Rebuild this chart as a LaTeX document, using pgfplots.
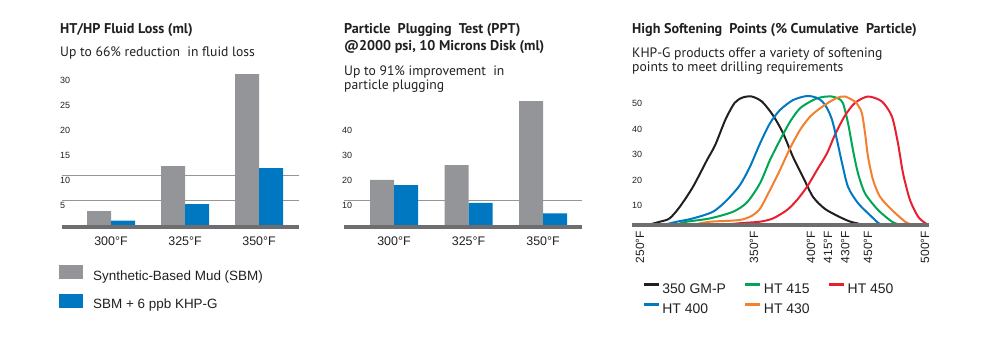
\documentclass[border=0pt]{standalone}
\usepackage{pgfplots}
\pgfplotsset{compat=1.18}
\usepackage{fontspec}
\setmainfont{Liberation Sans}
\newfontfamily\tfont{PT Sans}
\definecolor{bargray}{RGB}{147,149,152}
\definecolor{barblue}{RGB}{0,120,193}
\definecolor{axisgray}{RGB}{110,110,112}
\definecolor{gridgray}{RGB}{150,150,150}
\definecolor{txt}{RGB}{35,31,32}
\definecolor{cblack}{RGB}{35,31,32}
\definecolor{cblue}{RGB}{0,121,193}
\definecolor{cgreen}{RGB}{0,166,81}
\definecolor{corange}{RGB}{242,128,48}
\definecolor{cred}{RGB}{230,32,46}
\pgfplotsset{
  mybar/.style={
    scale only axis, clip=false, enlargelimits=false,
    axis line style={draw=none}, major tick length=0pt, tick style={draw=none},
    ybar=0pt, bar width=24bp, ymin=0,
    xtick={0,1,2}, xticklabels={300°F,325°F,350°F},
    xticklabel style={font=\fontsize{12.5}{13}\selectfont, text=txt, anchor=center, yshift=-16bp},
    yticklabel style={font=\fontsize{9}{10}\selectfont, text=txt, anchor=west, inner sep=0pt, xshift=-2bp, yshift=-5bp},
    /pgf/number format/assume math mode=true,
  }
}
\begin{document}
\begin{tikzpicture}[x=1bp,y=1bp]
\useasboundingbox (0,0) rectangle (992,353);
% titles
\node[anchor=base west, inner sep=0pt, text=txt, font=\tfont\bfseries\fontsize{14.2}{16}\selectfont] at (60,320) {HT/HP Fluid Loss (ml)};
\node[anchor=base west, inner sep=0pt, text=txt, font=\tfont\fontsize{13.7}{15}\selectfont] at (60,297) {Up to 66\% reduction\ \ in fluid loss};
\node[anchor=base west, inner sep=0pt, text=txt, font=\tfont\bfseries\fontsize{14.2}{16}\selectfont] at (344,320) {Particle\ \ Plugging\ \ Test (PPT)};
\node[anchor=base west, inner sep=0pt, text=txt, font=\tfont\bfseries\fontsize{14.2}{16}\selectfont] at (344,303) {@2000 psi, 10 Microns Disk (ml)};
\node[anchor=base west, inner sep=0pt, text=txt, font=\tfont\fontsize{13.7}{15}\selectfont] at (344,278) {Up to 91\% improvement\ \ in};
\node[anchor=base west, inner sep=0pt, text=txt, font=\tfont\fontsize{13.7}{15}\selectfont] at (344,264) {particle plugging};
\node[anchor=base west, inner sep=0pt, text=txt, font=\tfont\bfseries\fontsize{14.2}{16}\selectfont] at (632,320) {High Softening\ \ Points (\% Cumulative\ \ Particle)};
\node[anchor=base west, inner sep=0pt, text=txt, font=\tfont\fontsize{13.7}{15}\selectfont] at (632,296) {KHP-G products offer a variety of softening};
\node[anchor=base west, inner sep=0pt, text=txt, font=\tfont\fontsize{13.7}{15}\selectfont] at (632,281.5) {points to meet drilling requirements};

% chart 1
\begin{axis}[mybar, at={(62bp,128bp)}, anchor=south west,
  width=237bp, height=155bp, xmin=-0.662, xmax=2.54, ymax=31,
  ytick={5,10,15,20,25,30},
  extra y ticks={5,10}, extra y tick labels={},
  extra y tick style={grid=major, major grid style={draw=gridgray, line width=0.8bp}},
  legend style={at={(axis description cs:-0.0127,-0.258)}, anchor=north west, draw=none, fill=none,
    font=\fontsize{13.5}{15}\selectfont, text=txt, row sep=12bp, inner sep=0pt,
    nodes={inner sep=0pt},
    /tikz/every odd column/.append style={column sep=10bp}},
  legend cell align=left]
\addplot[fill=bargray, draw=none, legend image code/.code={\fill[bargray] (0bp,-3bp) rectangle (24bp,11bp);}] coordinates {(0,2.8) (1,11.8) (2,30.2)};
\addplot[fill=barblue, draw=none, legend image code/.code={\fill[barblue] (0bp,-3bp) rectangle (24bp,11bp);}] coordinates {(0,0.9) (1,4.2) (2,11.4)};
\legend{Synthetic-Based Mud (SBM), SBM + 6 ppb KHP-G}
\draw[line width=4bp, draw=axisgray, yshift=-2bp] (rel axis cs:0,0) -- (rel axis cs:1,0);
\end{axis}

% chart 2
\begin{axis}[mybar, at={(344bp,128bp)}, anchor=south west,
  width=238bp, height=130bp, xmin=-0.671, xmax=2.523, ymax=52,
  ytick={10,20,30,40},
  extra y ticks={10}, extra y tick labels={},
  extra y tick style={grid=major, major grid style={draw=gridgray, line width=0.8bp}}]
\addplot[fill=bargray, draw=none] coordinates {(0,18.1) (1,24) (2,49.6)};
\addplot[fill=barblue, draw=none] coordinates {(0,16) (1,8.9) (2,4.7)};
\draw[line width=4bp, draw=axisgray, yshift=-2bp] (rel axis cs:0,0) -- (rel axis cs:1,0);
\end{axis}

% chart 3
\begin{axis}[scale only axis, clip=false, enlargelimits=false,
  at={(632bp,129bp)}, anchor=south west,
  width=297bp, height=140.25bp, xmin=243, xmax=503.5, ymin=0, ymax=55,
  axis line style={draw=none}, major tick length=0pt, tick style={draw=none},
  ytick={10,20,30,40,50},
  xtick={250,350,400,415,430,450,500},
  xticklabels={250°F,350°F,400°F,415°F,430°F,450°F,500°F},
  xticklabel style={font=\fontsize{12}{12}\selectfont, text=txt, yshift=-7bp, rotate=90, anchor=east, inner sep=0pt},
  yticklabel style={font=\fontsize{9}{10}\selectfont, text=txt, anchor=west, inner sep=0pt, xshift=0bp, yshift=-7bp},
  /pgf/number format/assume math mode=true,
  every axis plot/.append style={line width=2bp, smooth, tension=0.45, no markers},
  legend image code/.code={\draw[#1, line width=3bp] (0bp,4.5bp) -- (15bp,4.5bp);},
  legend columns=3,
  legend style={at={(axis description cs:0.034,-0.42)}, anchor=north west, draw=none, fill=none,
    font=\fontsize{14}{16}\selectfont, text=txt, row sep=8.5bp, inner sep=0pt,
    nodes={inner sep=0pt},
    /tikz/every odd column/.append style={column sep=2bp},
    /tikz/every even column/.append style={column sep=18bp}},
  legend cell align=left]
\addplot[cblack] coordinates {(260,0) (267.5,0.9) (276,2.2) (285,6.8) (296.5,14.6) (308.8,25.1) (316,31) (325,41) (333,47.5) (340,49.6) (348,50) (357,48) (366.7,42.6) (375.4,35.7) (384.2,26.3) (393,18.4) (401.8,10.6) (412,6) (424,3) (434,1) (443,0)};
\addplot[cgreen] coordinates {(284,0) (291,0.9) (311.4,2.2) (331.6,4.8) (343.9,8.5) (355.3,16) (364,25.1) (372.8,32.9) (381.6,40.1) (390.4,45.4) (401.8,48.6) (410,49.8) (418,50) (424,49.2) (428,47.4) (432.5,39.5) (436.8,29) (441.2,19.9) (447.4,12) (458.8,5.5) (471,0.9) (476,0)};
\addplot[cred] coordinates {(330,0) (340,0.4) (355.3,0.9) (366.7,2.2) (379,5.5) (387.7,9.4) (396.5,14.6) (405.3,21.2) (414,27.7) (421,35) (429.8,42.5) (438.6,47.5) (450,50) (462.3,48) (471,42.1) (476.3,31.6) (480.7,19.9) (486.8,9.4) (493.9,2.9) (500,0.4) (502,0)};
\addplot[cblue] coordinates {(274,0) (282.5,0.9) (296.5,2.2) (314,4.8) (326.3,9.4) (337.7,15.3) (346.5,22.5) (355.3,31.6) (364,39.5) (372.8,44.7) (384.2,48.6) (396.5,50.2) (405,49.5) (410,48) (414,45.5) (418.4,40.9) (422.8,32.9) (427.2,23.9) (432.5,14.5) (441.2,8.2) (453.5,2.7) (459,0.4) (461,0)};
\addplot[corange] coordinates {(300,0) (311.4,0.9) (330,1.3) (340,1.8) (348,3.2) (355.3,6) (364,13.3) (372.8,21.2) (381.6,29.7) (390.4,36.9) (399.1,42.1) (408,45.4) (416.7,48) (423,49.5) (429.8,50) (438.6,48) (442,46) (444.7,43.4) (447.4,35.6) (450,26.4) (454.4,17.3) (460.5,10.7) (471,5.5) (482.5,0.9) (487,0)};
\legend{350\hspace{4bp}GM-P, HT 415, HT 450, HT 400, HT 430}
\draw[line width=4bp, draw=axisgray, yshift=-0.5bp] (rel axis cs:0,0) -- (rel axis cs:1,0);
\end{axis}
\end{tikzpicture}
\end{document}
